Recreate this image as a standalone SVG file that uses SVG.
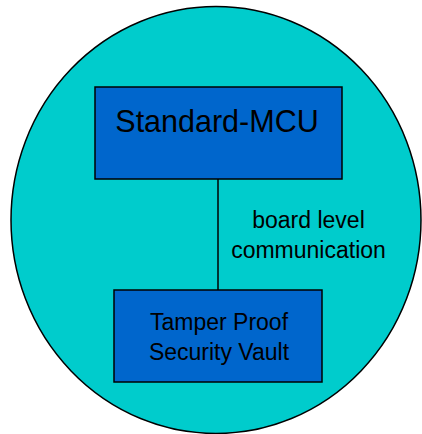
<svg xmlns="http://www.w3.org/2000/svg" width="422" height="434" viewBox="0 0 422 434">
  <style>
    .box { fill: #0066cc; stroke: #000; stroke-width: 1.5; }
    .lbl { font-family: "Liberation Sans", Arial, sans-serif; fill: #000; text-anchor: middle; }
    .link { stroke: #000; stroke-width: 1.5; fill: none; }
  </style>
  <rect width="422" height="434" fill="#fff"/>
  <g id="enclosure">
    <ellipse cx="216" cy="220" rx="205" ry="213.5" fill="#00cccc" stroke="#000" stroke-width="1.5"/>
  </g>
  <g id="connectors">
    <line class="link" x1="218" y1="179" x2="218" y2="290"/>
    <text class="lbl" x="308.5" y="228" font-size="23">board level</text>
    <text class="lbl" x="308.5" y="258" font-size="23">communication</text>
  </g>
  <g id="standard-mcu">
    <rect class="box" x="95" y="87" width="247" height="92"/>
    <text class="lbl" x="217" y="132" font-size="30.5">Standard-MCU</text>
  </g>
  <g id="security-vault">
    <rect class="box" x="114" y="290" width="208" height="92"/>
    <text class="lbl" x="219" y="330" font-size="23">Tamper Proof</text>
    <text class="lbl" x="219" y="360" font-size="23">Security Vault</text>
  </g>
</svg>
